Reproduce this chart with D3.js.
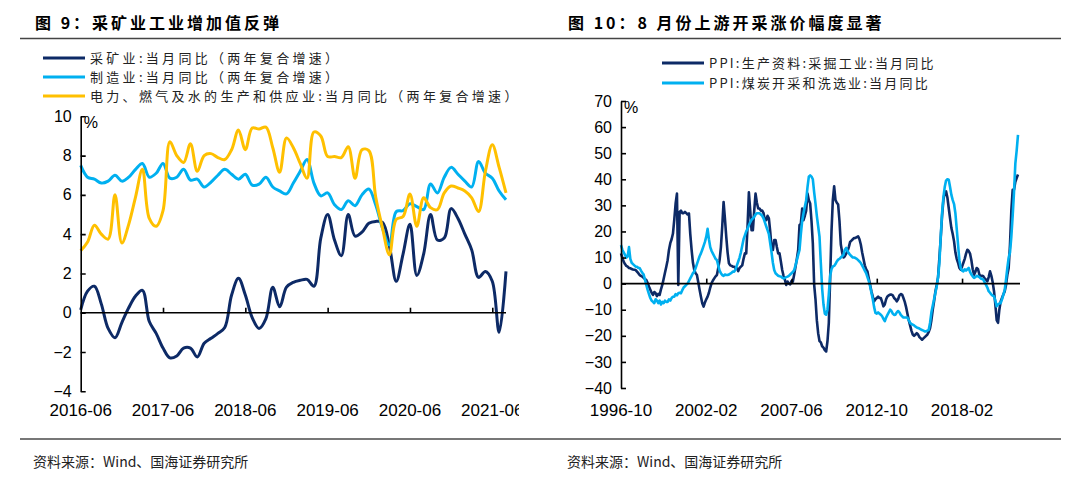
<!DOCTYPE html>
<html>
<head>
<meta charset="utf-8">
<script src="https://cdn.jsdelivr.net/npm/d3@7"></script>
<style>
  body { margin: 0; background: #fff; }
  svg text { font-family: "Liberation Sans", Arial, sans-serif; fill: #000; }
  .cjk { font-family: "Noto Sans CJK SC", "Noto Sans", sans-serif; }
</style>
</head>
<body>
<svg id="chart" width="1080" height="480"></svg>
<script>
// --- Left chart data: monthly, 2016-06 .. 2021-08 (two-year compound growth, %) ---
const leftTickLabels = ['2016-06', '2017-06', '2018-06', '2019-06', '2020-06', '2021-06'];
const leftYTicks = [-4, -2, 0, 2, 4, 6, 8, 10];

const miningVA = [
  0.15, 1.1, 1.35, 0.45, -0.8, -1.27, -0.5, 0.25, 0.85, 1.14, -0.45, -1.05,
  -1.8, -2.3, -2.2, -1.8, -1.8, -2.25, -1.55, -1.3, -1.05, -0.75, 0.9, 1.75,
  0.9, -0.25, -0.8, -0.3, 1.3, 0.3, 1.3, 1.55, 1.65, 1.7, 1.35, 3.8,
  5.0, 3.7, 2.9, 5.0, 3.9, 4.1, 4.55, 4.65, 4.6, 3.4, 1.6, 3.0,
  4.5, 1.9, 3.0, 5.0, 3.7, 3.8, 5.3, 4.8, 4.0, 3.2, 1.8, 2.1,
  1.6, -1.0, 2.1
];
const manufVA = [
  7.5, 6.9, 6.8, 6.6, 6.7, 7.0, 6.7, 6.9, 7.3, 7.6, 6.9, 7.1,
  7.6, 6.85, 6.9, 7.3, 6.75, 6.8, 6.4, 6.65, 7.0, 7.3, 7.05, 6.8,
  7.05, 6.5, 6.55, 6.9, 6.4, 6.2, 6.05, 6.6, 7.2, 7.8, 6.6, 5.95,
  6.1, 5.5, 5.25, 5.7, 5.45, 6.0, 6.3, 5.5, 4.3, 3.45, 5.15, 5.2,
  5.55, 5.4, 5.25, 6.55, 6.1, 6.9, 7.4, 7.05, 6.7, 6.4, 7.7, 7.1,
  6.85, 6.2, 5.75
];
const utilVA = [
  3.15, 3.6, 4.45, 4.0, 3.75, 6.0, 3.55, 4.5, 5.9, 7.3, 4.8, 4.4,
  5.2, 8.7, 8.0, 7.65, 8.6, 7.2, 8.0, 8.1, 7.9, 7.8, 8.3, 9.3,
  8.3, 9.4, 9.35, 9.45, 8.4, 7.15, 8.9, 8.4, 7.6, 6.85, 9.2, 9.0,
  7.95, 7.95, 7.9, 8.45, 6.85, 8.3, 8.25, 5.9, 4.3, 2.95, 4.75, 4.9,
  6.05, 4.4, 5.85, 5.35, 5.25, 6.1, 6.45, 6.35, 6.2, 5.85, 5.15, 7.2,
  8.55, 7.4, 6.1
];

// --- Right chart data: monthly PPI YoY, 1996-10 .. 2021-08 (%) ---
const rightTickLabels = ['1996-10', '2002-02', '2007-06', '2012-10', '2018-02'];
const rightYTicks = [-40, -30, -20, -10, 0, 10, 20, 30, 40, 50, 60, 70];

const ppiMining = [
  11.6, 10.0, 8.4,
  7.5, 6.8, 6.5, 6.0, 5.9, 5.6, 5.4, 5.3, 5.2, 4.6, 4.0, 3.3,
  3.0, 2.7, 2.2, 1.8, 1.4, 0.2, -1.1, -2.3, -3.5, -4.3, -3.2, -3.7,
  -4.8, -3.9, -4.3, -2.2, -0.5, 1.8, 4.2, 6.5, 9.0, 12.9, 15.5, 17.0,
  19.2, 24.5, 30.7, 34.5, -0.5, 27.5, 28.0, 27.0, 27.0, 27.5, 27.0, 26.5,
  26.9, 19.0, 12.9, 8.0, 5.2, 4.0, 3.3, 0.5, -2.4, -5.0, -7.5, -8.8,
  -7.2, -6.0, -5.0, -3.5, -1.5, 0.2, 1.2, 2.0, 2.8, 3.3, 6.0, 9.0,
  14.0, 22.0, 31.3, 25.0, 18.0, 12.0, 7.8, 7.0, 6.8, 6.5, 6.5, 5.9,
  5.9, 4.8, 6.0, 6.5, 7.0, 9.5, 11.6, 11.6, 22.0, 35.0, 28.0, 20.5,
  20.5, 28.0, 34.5, 31.0, 28.8, 28.8, 28.0, 28.0, 27.0, 24.3, 24.3, 26.0,
  25.0, 20.0, 14.0, 12.9, 16.7, 16.7, 14.0, 11.6, 11.6, 8.5, 5.2, 3.0,
  1.5, -0.5, 0.8, 0.0, -0.3, 1.0, 0.8, 3.5, 6.5, 9.5, 12.9, 22.4,
  23.0, 28.8, 24.3, 26.0, 28.0, 34.5, 32.0, 30.7, 24.0, 15.4, -0.5, -6.0,
  -14.0, -19.0, -22.0, -22.5, -24.0, -24.5, -25.5, -26.0, -22.0, -15.0, 2.0, 20.0,
  32.0, 37.3, 32.0, 31.0, 30.3, 24.0, 15.0, 12.0, 10.0, 10.5, 11.5, 12.4,
  14.0, 16.0, 16.5, 17.0, 17.5, 17.5, 17.8, 18.1, 17.0, 15.0, 12.0, 9.5,
  7.0, 5.5, 4.7, 2.0, -0.5, -3.0, -5.0, -6.8, -6.0, -5.5, -5.0, -5.5,
  -5.5, -7.0, -8.7, -8.0, -6.0, -4.9, -4.5, -4.2, -4.2, -4.5, -5.5, -6.0,
  -6.8, -6.0, -4.5, -4.0, -4.2, -5.5, -7.0, -9.0, -11.5, -14.0, -16.0, -18.0,
  -19.5, -20.0, -19.5, -19.0, -19.5, -20.5, -21.0, -21.5, -21.0, -20.5, -20.0, -19.5,
  -18.5, -17.0, -14.0, -10.0, -6.8, -3.0, -0.5, 2.5, 10.0, 17.5, 26.0, 32.0,
  35.0, 35.4, 33.0, 29.0, 25.0, 21.3, 19.0, 16.2, 12.0, 9.5, 8.0, 6.0,
  5.4, 6.5, 8.0, 9.5, 11.5, 13.0, 12.5, 11.5, 9.0, 5.5, 3.4, 4.5,
  6.0, 5.5, 3.5, 2.8, 3.0, 2.8, 2.0, 1.5, 0.9, 2.5, 4.7, 3.0,
  0.5, -2.9, -8.0, -14.0, -15.0, -10.0, -6.8, -5.5, -4.2, -3.0, -0.5, 3.4,
  6.0, 15.0, 28.0, 36.0, 36.0, 39.0, 40.5, 41.8
];
const ppiCoal = [
  14.8, 13.0, 12.0,
  11.0, 10.0, 10.5, 14.0, 9.5, 8.0, 7.5, 7.0, 6.5, 6.5, 6.0, 6.0,
  5.0, 4.2, 3.5, 1.5, -0.5, -2.4, -4.0, -5.5, -6.5, -7.0, -7.5, -6.0,
  -6.5, -7.5, -6.5, -8.0, -7.0, -7.5, -6.5, -7.0, -7.0, -6.0, -6.5, -5.5,
  -5.0, -5.0, -4.0, -4.5, -3.7, -3.5, -3.7, -2.5, -1.5, -1.0, -0.5, 0.0,
  1.0, 2.0, 3.0, 4.0, 4.6, 6.0, 7.5, 9.0, 10.5, 11.6, 13.0, 14.5,
  16.0, 18.0, 21.0, 17.0, 14.0, 12.5, 11.5, 10.5, 9.5, 9.0, 7.0, 5.0,
  4.0, 3.3, 3.0, 3.5, 3.3, 3.3, 3.5, 3.8, 4.2, 4.6, 4.6, 5.5,
  7.0, 8.5, 10.0, 12.0, 14.5, 17.0, 18.5, 20.0, 21.0, 22.4, 23.5, 24.5,
  25.0, 25.6, 26.5, 27.0, 27.0, 27.0, 26.5, 26.0, 25.0, 23.5, 22.0, 20.5,
  19.0, 15.5, 12.0, 8.0, 5.2, 4.0, 3.5, 3.0, 2.8, 2.7, 2.3, 2.0,
  2.2, 2.5, 2.7, 3.0, 3.5, 4.0, 4.5, 5.2, 7.0, 9.0, 11.0, 12.9,
  19.0, 24.0, 27.0, 29.5, 32.0, 37.0, 41.0, 41.5, 41.0, 40.0, 35.0, 30.7,
  26.0, 22.0, 18.0, 7.8, -2.0, -8.0, -11.5, -11.9, -10.0, -4.0, 3.0, 5.5,
  6.6, 6.8, 7.5, 8.5, 9.2, 9.5, 10.0, 10.5, 11.0, 13.0, 13.7, 12.5,
  11.7, 11.0, 10.5, 10.0, 10.0, 9.8, 9.5, 9.0, 8.5, 7.9, 7.0, 6.0,
  5.0, 4.0, 2.5, 1.0, -1.0, -3.5, -6.0, -9.0, -11.2, -11.5, -11.0, -11.5,
  -11.9, -12.5, -13.5, -14.4, -13.0, -12.0, -11.0, -10.0, -10.5, -11.5, -12.0, -11.9,
  -11.0, -10.5, -11.0, -12.0, -12.5, -13.0, -13.0, -13.0, -13.0, -14.0, -15.0, -15.5,
  -15.7, -16.0, -16.5, -16.8, -17.0, -17.2, -17.5, -17.8, -18.0, -18.3, -18.3, -18.0,
  -17.7, -15.0, -11.0, -8.5, -6.0, -3.5, -1.0, 2.5, 8.0, 18.0, 27.0, 33.0,
  37.0, 39.5, 40.0, 39.8, 37.0, 34.0, 32.0, 30.5, 27.0, 21.0, 15.0, 9.0,
  6.0, 5.0, 4.7, 5.5, 5.0, 5.5, 6.0, 4.5, 3.5, 2.8, 2.2, 2.5,
  3.0, 2.8, 2.5, 2.0, 1.8, 1.5, 0.5, -0.5, -1.5, -2.9, -3.5, -4.2,
  -4.6, -4.9, -6.5, -8.7, -8.0, -7.6, -7.4, -6.0, -4.2, -2.5, 1.5, 6.0,
  10.0, 12.0, 18.0, 26.0, 35.0, 46.0, 51.0, 57.0
];

// --- Styling ---
const colors = {
  navy: '#0d2a66',
  sky: '#00b0f0',
  gold: '#ffc000'
};

const svg = d3.select('#chart');

// --- Titles & frame lines ---
svg.append('text').attr('class', 'cjk').attr('x', 35).attr('y', 29)
  .style('font-size', '16px').style('font-weight', 'bold').style('letter-spacing', '3px')
  .text('图 9：采矿业工业增加值反弹');
svg.append('text').attr('class', 'cjk').attr('x', 568).attr('y', 29)
  .style('font-size', '16px').style('font-weight', 'bold').style('letter-spacing', '3px')
  .text('图 10：8 月份上游开采涨价幅度显著');

svg.append('line').attr('x1', 20).attr('x2', 1061).attr('y1', 38.5).attr('y2', 38.5)
  .attr('stroke', '#444').attr('stroke-width', 1.3);
svg.append('line').attr('x1', 20).attr('x2', 1061).attr('y1', 439).attr('y2', 439)
  .attr('stroke', '#777').attr('stroke-width', 2);

svg.append('text').attr('class', 'cjk').attr('x', 33).attr('y', 467)
  .style('font-size', '14px').style('fill', '#222').text('资料来源：Wind、国海证券研究所');
svg.append('text').attr('class', 'cjk').attr('x', 567).attr('y', 467)
  .style('font-size', '14px').style('fill', '#222').text('资料来源：Wind、国海证券研究所');

// --- Legend helper ---
function legend(items, x0, y0, dy, spacing) {
  items.forEach((it, i) => {
    const y = y0 + i * dy;
    svg.append('line').attr('x1', x0).attr('x2', x0 + 42).attr('y1', y).attr('y2', y)
      .attr('stroke', it.color).attr('stroke-width', 3);
    svg.append('text').attr('class', 'cjk').attr('x', x0 + 47).attr('y', y + 4.5)
      .style('font-size', '13px').style('letter-spacing', spacing).style('fill', '#222')
      .text(it.label);
  });
}

legend([
  { label: '采矿业:当月同比（两年复合增速）', color: colors.navy },
  { label: '制造业:当月同比（两年复合增速）', color: colors.sky },
  { label: '电力、燃气及水的生产和供应业:当月同比（两年复合增速）', color: colors.gold }
], 43, 58, 19, '3.3px');

legend([
  { label: 'PPI:生产资料:采掘工业:当月同比', color: colors.navy },
  { label: 'PPI:煤炭开采和洗选业:当月同比', color: colors.sky }
], 662, 63, 20, '2.2px');

// --- Generic panel drawer ---
function drawPanel(opt) {
  const x = d3.scaleLinear().domain([0, opt.n - 1]).range([opt.left, opt.right]);
  const y = d3.scaleLinear().domain(opt.yDomain).range([opt.bottom, opt.top]);

  const clipId = 'clip-' + opt.id;
  svg.append('clipPath').attr('id', clipId)
    .append('rect').attr('x', opt.left - 60).attr('y', 0)
    .attr('width', opt.clipRight - opt.left + 60).attr('height', 480);

  const g = svg.append('g').attr('clip-path', `url(#${clipId})`);

  // Series
  const line = d3.line()
    .x((d, i) => x(i))
    .y(d => y(d))
    .curve(opt.curve);

  opt.series.forEach(s => {
    g.append('path').datum(s.values)
      .attr('fill', 'none')
      .attr('stroke', s.color)
      .attr('stroke-width', opt.strokeWidth)
      .attr('stroke-linejoin', 'round')
      .attr('d', line);
  });

  // Y axis with inward ticks
  const yAxis = d3.axisLeft(y).tickValues(opt.yTicks).tickSize(-5).tickSizeOuter(0).tickPadding(9);
  const ya = g.append('g').attr('transform', `translate(${opt.left},0)`).call(yAxis);
  ya.select('.domain').attr('stroke', '#000').attr('stroke-width', 1.6);
  ya.selectAll('.tick line').attr('stroke', '#000').attr('stroke-width', 1.6);
  ya.selectAll('.tick text').style('font-size', '16px').style('font-family', '"Liberation Sans", Arial, sans-serif');

  // Zero line with upward ticks
  const xAxis = d3.axisBottom(x).tickValues(opt.xTickIdx.slice(1)).tickSize(-5).tickSizeOuter(0).tickFormat('');
  const xa = g.append('g').attr('transform', `translate(0,${y(0)})`).call(xAxis);
  xa.select('.domain').attr('stroke', '#000').attr('stroke-width', 1.6)
    .attr('d', `M${opt.left},0H${opt.axisEnd}`);
  xa.selectAll('.tick line').attr('stroke', '#000').attr('stroke-width', 1.6);

  // Category labels at bottom
  g.selectAll('.xlab').data(opt.xLabels).join('text')
    .attr('class', 'xlab')
    .attr('x', (d, i) => x(opt.xTickIdx[i]))
    .attr('y', opt.labelY)
    .attr('text-anchor', 'middle')
    .style('font-size', '17px')
    .text(d => d);

  // Unit
  svg.append('text').attr('x', opt.left + 3).attr('y', opt.top + 12)
    .style('font-size', '16px').text('%');
}

drawPanel({
  id: 'left',
  n: miningVA.length,
  left: 80.7, right: 506, top: 116.3, bottom: 391.3,
  clipRight: 519, axisEnd: 506,
  yDomain: [-4, 10], yTicks: leftYTicks,
  xTickIdx: [0, 12, 24, 36, 48, 60], xLabels: leftTickLabels,
  labelY: 416,
  curve: d3.curveCatmullRom.alpha(0.5),
  strokeWidth: 3,
  series: [
    { values: miningVA, color: colors.navy },
    { values: manufVA, color: colors.sky },
    { values: utilVA, color: colors.gold }
  ]
});

drawPanel({
  id: 'right',
  n: ppiMining.length,
  left: 621, right: 1018, top: 101, bottom: 388,
  clipRight: 1075, axisEnd: 1020,
  yDomain: [-40, 70], yTicks: rightYTicks,
  xTickIdx: [0, 64, 128, 192, 256], xLabels: rightTickLabels,
  labelY: 416,
  curve: d3.curveLinear,
  strokeWidth: 2.6,
  series: [
    { values: ppiMining, color: colors.navy },
    { values: ppiCoal, color: colors.sky }
  ]
});
</script>
</body>
</html>
